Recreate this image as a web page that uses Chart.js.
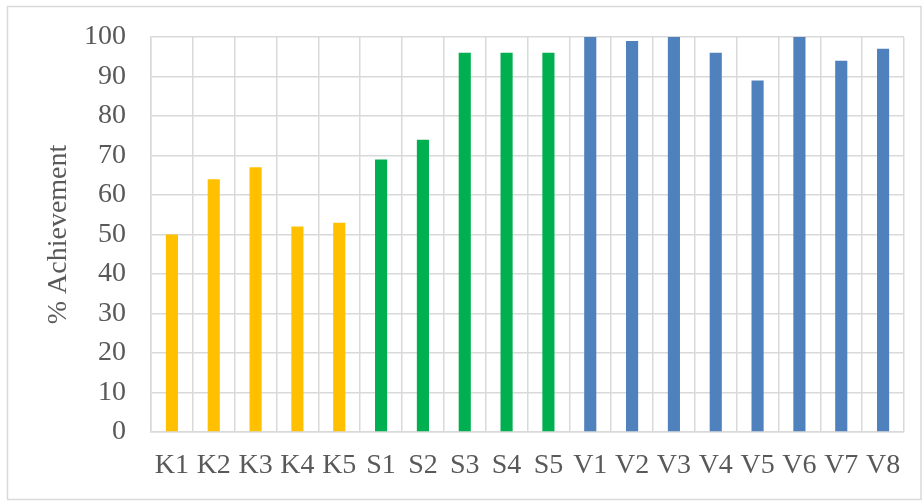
<!DOCTYPE html>
<html>
<head>
<meta charset="utf-8">
<script src="https://cdn.jsdelivr.net/npm/chart.js@4"></script>
<style>
  html, body { margin: 0; padding: 0; background: #fff; }
  #wrap { width: 922px; height: 504px; position: relative; }
</style>
</head>
<body>
<div id="wrap"><canvas id="c" width="922" height="504"></canvas></div>
<script>
const categories = ['K1','K2','K3','K4','K5','S1','S2','S3','S4','S5','V1','V2','V3','V4','V5','V6','V7','V8'];
const values = [50, 64, 67, 52, 53, 69, 74, 96, 96, 96, 100, 99, 100, 96, 89, 100, 94, 97];
const groupColors = { K: '#FFC000', S: '#00B050', V: '#4F81BD' };
const yTicks = { min: 0, max: 100, step: 10 };
const yTitle = '% Achievement';

const barColors = categories.map(c => groupColors[c.charAt(0)]);
const FONT = 'Liberation Serif, Times New Roman, serif';
const GRID = '#d9d9d9';
const TEXT = '#595959';

const outerBorder = {
  id: 'outerBorder',
  beforeDraw(chart) {
    const ctx = chart.ctx;
    ctx.save();
    ctx.fillStyle = '#fff';
    ctx.fillRect(0, 0, chart.width, chart.height);
    ctx.strokeStyle = GRID;
    ctx.lineWidth = 1.5;
    ctx.strokeRect(7.5, 6.5, 913.5, 493);
    ctx.restore();
  }
};

new Chart(document.getElementById('c'), {
  type: 'bar',
  data: {
    labels: categories,
    datasets: [{
      data: values,
      backgroundColor: barColors,
      borderWidth: 0,
      categoryPercentage: 1,
      barPercentage: 0.29
    }]
  },
  options: {
    responsive: false,
    animation: false,
    devicePixelRatio: 1,
    layout: { padding: { left: 38, top: 37, right: 18, bottom: 0 } },
    plugins: { legend: { display: false }, tooltip: { enabled: false } },
    scales: {
      x: {
        grid: { color: GRID, lineWidth: 1.5, drawTicks: false, offset: true },
        border: { color: GRID, width: 1.5 },
        ticks: { color: TEXT, font: { family: FONT, size: 28 }, padding: 17, maxRotation: 0, autoSkip: false },
        afterFit(s) { s.height = 72; s.paddingLeft = 0; s.paddingRight = 0; }
      },
      y: {
        min: yTicks.min,
        max: yTicks.max,
        grid: { color: GRID, lineWidth: 1.5, drawTicks: false },
        border: { color: GRID, width: 1.5 },
        ticks: { stepSize: yTicks.step, color: TEXT, font: { family: FONT, size: 28 }, padding: 25 },
        title: { display: true, text: yTitle, color: TEXT, font: { family: FONT, size: 28 }, padding: { top: 4, bottom: 4 } },
        afterFit(s) { s.width = 113; s.paddingTop = 0; s.paddingBottom = 0; }
      }
    }
  },
  plugins: [outerBorder]
});
</script>
</body>
</html>
